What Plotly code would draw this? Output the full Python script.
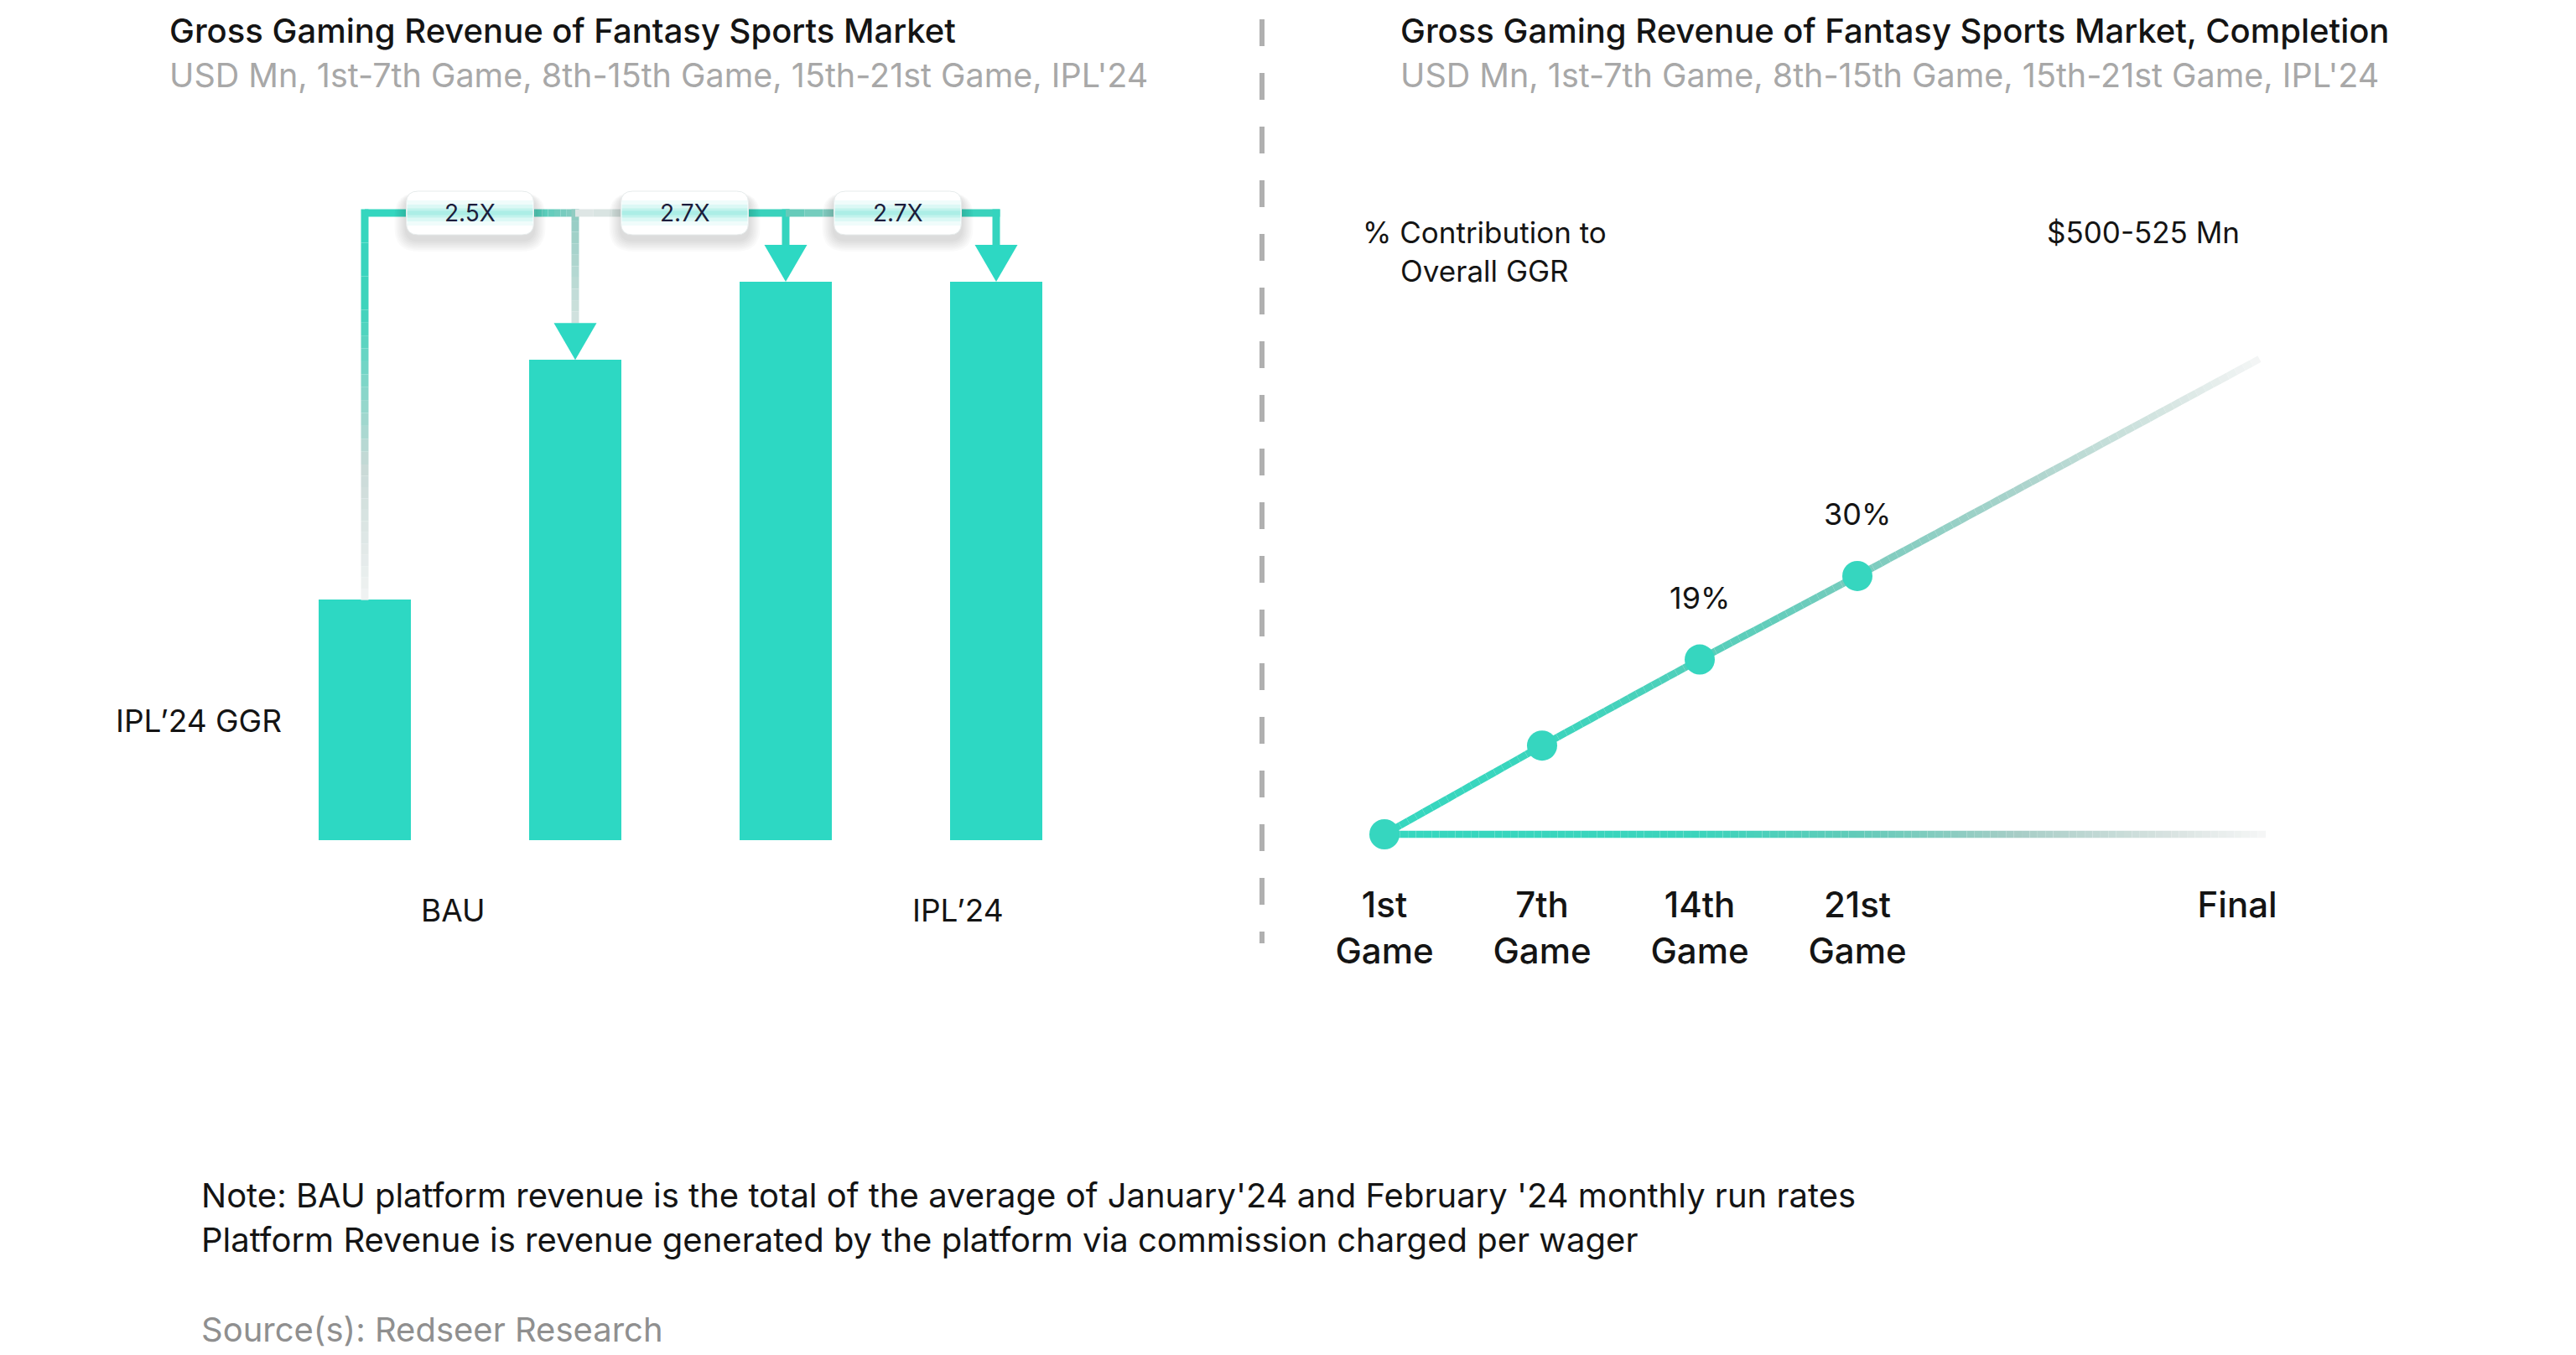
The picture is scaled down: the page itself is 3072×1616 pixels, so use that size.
import plotly.graph_objects as go

W, H = 3072, 1616

# ---------------- data ----------------
bar_names = ["BAU", "1st-7th Game", "8th-15th Game", "15th-21st Game"]
bar_values = [43, 86, 100, 100]            # relative GGR (as drawn)
growth_labels = ["2.5X", "2.7X", "2.7X"]
group_labels = ["BAU", "IPL’24"]
group_label_x = [0.42, 2.82]

game_ticks = ["1st<br>Game", "7th<br>Game", "14th<br>Game", "21st<br>Game", "Final"]
game_tick_x = [0, 1, 2, 3, 5.41]
game_x = [0, 1, 2, 3]
contribution = [0, 10.3, 20.3, 30]         # cumulative contribution (as drawn)
contribution_labels = ["", "", "19%", "30%"]
projection_x = 5.55
projection_y = 55.2
baseline_end_x = 5.59

# ---------------- style / geometry ----------------
FONT = "Inter, Open Sans, sans-serif"
TEAL = "#2dd8c3"
DARK = "#141414"

# left panel mapping (pixels)
L_X0, L_UX = 435, 251.0        # x=0 pixel, px per unit
L_BASE, L_UY = 1002, 6.66      # y=0 pixel, px per unit
L_XR = [-1, 4]
L_YR = [0, 130]
BOX_DX_PX = [0, 5, 8]          # small horizontal nudge of the multiplier boxes
# right panel mapping
R_X0, R_UX = 1651, 188.0
R_BASE, R_UY = 995, 10.27
R_XR = [-1, 6.5]
R_YR = [-5.5, 70]

def dom_x(x0px, ux, rng):
    return [(x0px + rng[0] * ux) / W, (x0px + rng[1] * ux) / W]

def dom_y(basepx, uy, rng):
    return [1 - (basepx - rng[0] * uy) / H, 1 - (basepx - rng[1] * uy) / H]

def hex2rgb(h):
    h = h.lstrip("#")
    return tuple(int(h[i:i + 2], 16) for i in (0, 2, 4))

def mix(c0, c1, t):
    a, b = hex2rgb(c0), hex2rgb(c1)
    return "rgb(%d,%d,%d)" % tuple(round(a[i] + (b[i] - a[i]) * t) for i in range(3))

fig = go.Figure()

def add_grad_seg(p0, p1, c0, c1, n, width, xa="x", ya="y"):
    for k in range(n):
        t0, t1 = k / n, (k + 1) / n
        xs = [p0[0] + (p1[0] - p0[0]) * t0, p0[0] + (p1[0] - p0[0]) * t1]
        ys = [p0[1] + (p1[1] - p0[1]) * t0, p0[1] + (p1[1] - p0[1]) * t1]
        fig.add_trace(go.Scatter(x=xs, y=ys, mode="lines", xaxis=xa, yaxis=ya,
                                 line=dict(color=mix(c0, c1, (t0 + t1) / 2), width=width),
                                 hoverinfo="skip", showlegend=False))

# ---------------- left panel: bars ----------------
bar_x = list(range(len(bar_values)))
BAR_W = 110 / L_UX
fig.add_trace(go.Bar(x=bar_x, y=bar_values, width=BAR_W, marker=dict(color=TEAL, line=dict(width=0)),
                     hovertext=bar_names, hoverinfo="text", xaxis="x", yaxis="y", showlegend=False))

LEVEL = (L_BASE - 254) / L_UY        # connector level
AH = 44 / L_UY                        # arrow height
AW = 51 / L_UX                        # arrow width
LW = 9                                # line width px
HWY = (LW / 2) / L_UY
BOX_W = 152 / L_UX
BOX_H = 52 / L_UY
box_cx = [i + 0.5 + BOX_DX_PX[i] / L_UX for i in range(len(growth_labels))]

# connectors
v0, v1, v2, v3 = bar_values
span = LEVEL - v0
add_grad_seg((0, v0), (0, v0 + span * 0.35), "#f1f3f3", "#c8d9d6", 12, LW)
add_grad_seg((0, v0 + span * 0.35), (0, v0 + span * 0.75), "#c8d9d6", "#3fd3bc", 12, LW)
add_grad_seg((0, v0 + span * 0.75), (0, LEVEL + HWY), "#3fd3bc", "#34d6bf", 3, LW)
add_grad_seg((0, LEVEL), (box_cx[0], LEVEL), "#34d6bf", "#34d6bf", 1, LW)
add_grad_seg((box_cx[0] + BOX_W / 2 - 0.02, LEVEL), (1 + (LW / 2) / L_UX, LEVEL), "#45cfba", "#8fcbc1", 8, LW)
add_grad_seg((1, LEVEL + HWY), (1, v1 + AH), "#8fcbc1", "#d3e2df", 10, LW)

add_grad_seg((1, LEVEL), (box_cx[1], LEVEL), "#e1e7e6", "#c2dad6", 6, LW)
add_grad_seg((box_cx[1] + BOX_W / 2 - 0.02, LEVEL), (2 + (LW / 2) / L_UX, LEVEL), "#3cd2bb", "#38d3bc", 1, LW)
add_grad_seg((2, LEVEL + HWY), (2, v2 + AH), "#38d3bc", "#30d6c0", 1, LW)

add_grad_seg((2, LEVEL), (box_cx[2], LEVEL), "#5ecab8", "#b9d6d2", 6, LW)
add_grad_seg((box_cx[2] + BOX_W / 2 - 0.02, LEVEL), (3 + (LW / 2) / L_UX, LEVEL), "#3cd2bb", "#38d3bc", 1, LW)
add_grad_seg((3, LEVEL + HWY), (3, v3 + AH), "#38d3bc", "#30d6c0", 1, LW)

# arrow heads
for i in range(1, len(bar_values)):
    v = bar_values[i]
    fig.add_trace(go.Scatter(x=[i - AW / 2, i + AW / 2, i, i - AW / 2], y=[v + AH, v + AH, v, v + AH],
                             mode="lines", fill="toself", fillcolor=TEAL, line=dict(width=0, color=TEAL),
                             xaxis="x", yaxis="y", hoverinfo="skip", showlegend=False))

def rrect(x0, y0, x1, y1, rx, ry):
    return (f"M {x0 + rx},{y0} L {x1 - rx},{y0} Q {x1},{y0} {x1},{y0 + ry} L {x1},{y1 - ry} "
            f"Q {x1},{y1} {x1 - rx},{y1} L {x0 + rx},{y1} Q {x0},{y1} {x0},{y1 - ry} "
            f"L {x0},{y0 + ry} Q {x0},{y0} {x0 + rx},{y0} Z")

shapes = []
annotations = []
ux, uy = 1 / L_UX, 1 / L_UY
for i, lab in enumerate(growth_labels):
    cx = box_cx[i]
    x0, x1 = cx - BOX_W / 2, cx + BOX_W / 2
    y0, y1 = LEVEL - BOX_H / 2, LEVEL + BOX_H / 2
    # shadow
    for k in range(1, 8):
        e = k * 2.0
        shapes.append(dict(type="path", xref="x", yref="y",
                           path=rrect(x0 - e * ux, y0 - (e + 6) * uy, x1 + e * ux, y1 - (6 - e * 0.3) * uy,
                                      (14 + e) * ux, (14 + e) * uy),
                           fillcolor="rgba(0,0,0,0.02)", line=dict(width=0)))
    shapes.append(dict(type="path", xref="x", yref="y", path=rrect(x0, y0, x1, y1, 14 * ux, 14 * uy),
                       fillcolor="white", line=dict(width=1, color="rgba(230,235,235,1)")))
    # teal glow through the middle
    for hpx, a in [(30, 0.07), (20, 0.10), (11, 0.15), (5, 0.15)]:
        shapes.append(dict(type="rect", xref="x", yref="y", x0=x0 + 1 * ux, x1=x1 - 1 * ux,
                           y0=LEVEL - hpx / 2 * uy, y1=LEVEL + hpx / 2 * uy,
                           fillcolor=f"rgba(45,216,195,{a})", line=dict(width=0)))
    annotations.append(dict(x=cx, y=LEVEL, xref="x", yref="y", text=lab, showarrow=False,
                            xanchor="center", yanchor="middle",
                            font=dict(family=FONT, size=28, color="#1b1d3c")))

# left labels
for lab, gx in zip(group_labels, group_label_x):
    annotations.append(dict(x=gx, y=1 - 1085 / H, xref="x", yref="paper", text=lab, showarrow=False,
                            xanchor="center", yanchor="middle", font=dict(family=FONT, size=37, color=DARK)))
annotations.append(dict(x=338 / W, y=1 - 859 / H, xref="paper", yref="paper", text="IPL’24 GGR",
                        showarrow=False, xanchor="right", yanchor="middle",
                        font=dict(family=FONT, size=37, color=DARK)))

# ---------------- right panel: line ----------------
def color_at(x, stops):
    for (xa, ca), (xb, cb) in zip(stops[:-1], stops[1:]):
        if x <= xb:
            return mix(ca, cb, (x - xa) / (xb - xa) if xb > xa else 0)
    return mix(stops[-1][1], stops[-1][1], 0)

trend_stops = [(0, "#36d7bf"), (1, "#3ad5bd"), (2, "#52cfba"), (3, "#78cbbd"),
               (4, "#a9d3cb"), (5, "#d8e6e3"), (projection_x, "#f4f6f6")]
base_stops = [(0, "#36d7bf"), (2, "#3cd4bc"), (3, "#62cbb9"), (4, "#a6cdc6"),
              (5, "#d9e3e1"), (baseline_end_x, "#f6f7f7")]

tx = game_x + [projection_x]
ty = contribution + [projection_y]
STEP = 0.05
for (xa_, ya_), (xb_, yb_) in zip(zip(tx[:-1], ty[:-1]), zip(tx[1:], ty[1:])):
    n = max(1, round((xb_ - xa_) / STEP))
    for k in range(n):
        t0, t1 = k / n, (k + 1) / n
        xs = [xa_ + (xb_ - xa_) * t0, xa_ + (xb_ - xa_) * t1]
        ys = [ya_ + (yb_ - ya_) * t0, ya_ + (yb_ - ya_) * t1]
        fig.add_trace(go.Scatter(x=xs, y=ys, mode="lines", xaxis="x2", yaxis="y2",
                                 line=dict(color=color_at((xs[0] + xs[1]) / 2, trend_stops), width=8.5),
                                 hoverinfo="skip", showlegend=False))

n = round((baseline_end_x - game_x[0]) / STEP)
for k in range(n):
    xs = [game_x[0] + baseline_end_x * k / n, game_x[0] + baseline_end_x * (k + 1) / n]
    fig.add_trace(go.Scatter(x=xs, y=[contribution[0], contribution[0]], mode="lines", xaxis="x2", yaxis="y2",
                             line=dict(color=color_at((xs[0] + xs[1]) / 2, base_stops), width=8.5),
                             hoverinfo="skip", showlegend=False))

fig.add_trace(go.Scatter(x=game_x, y=contribution, mode="markers", xaxis="x2", yaxis="y2",
                         marker=dict(size=36, color="#36d6bf", line=dict(width=0)),
                         hoverinfo="skip", showlegend=False))

for gx, cy, lab in zip(game_x, contribution, contribution_labels):
    if lab:
        annotations.append(dict(x=gx, y=cy, xref="x2", yref="y2", text=lab, showarrow=False,
                                xanchor="center", yanchor="middle",
                                yshift=74, font=dict(family=FONT, size=36, color=DARK)))

annotations.append(dict(x=1770 / W, y=1 - 300 / H, xref="paper", yref="paper",
                        text="% Contribution to<br>Overall GGR", showarrow=False, align="center",
                        xanchor="center", yanchor="middle",
                        font=dict(family=FONT, size=35, color=DARK)))
annotations.append(dict(x=2556 / W, y=1 - 277 / H, xref="paper", yref="paper", text="$500-525 Mn",
                        showarrow=False, xanchor="center", yanchor="middle",
                        font=dict(family=FONT, size=35, color=DARK)))

# ---------------- titles & notes ----------------
for x0px, title in [(200, "Gross Gaming Revenue of Fantasy Sports Market"),
                    (1668, "Gross Gaming Revenue of Fantasy Sports Market, Completion")]:
    annotations.append(dict(x=x0px / W, y=1 - 37 / H, xref="paper", yref="paper", text=title,
                            showarrow=False, xanchor="left", yanchor="middle",
                            font=dict(family=FONT, size=40, color=DARK, weight=500)))
    annotations.append(dict(x=x0px / W, y=1 - 90 / H, xref="paper", yref="paper",
                            text="USD Mn, 1st-7th Game, 8th-15th Game, 15th-21st Game, IPL'24",
                            showarrow=False, xanchor="left", yanchor="middle",
                            font=dict(family=FONT, size=39.5, color="#a8a8a8")))

annotations.append(dict(x=238 / W, y=1 - 1425 / H, xref="paper", yref="paper", showarrow=False,
                        xanchor="left", yanchor="middle",
                        text="Note: BAU platform revenue is the total of the average of January'24 and February '24 monthly run rates",
                        font=dict(family=FONT, size=40, color=DARK)))
annotations.append(dict(x=238 / W, y=1 - 1478 / H, xref="paper", yref="paper", showarrow=False,
                        xanchor="left", yanchor="middle",
                        text="Platform Revenue is revenue generated by the platform via commission charged per wager",
                        font=dict(family=FONT, size=40, color=DARK)))
annotations.append(dict(x=238 / W, y=1 - 1585 / H, xref="paper", yref="paper", showarrow=False,
                        xanchor="left", yanchor="middle", text="Source(s): Redseer Research",
                        font=dict(family=FONT, size=40, color="#8f8f8f")))

# dashed divider
shapes.append(dict(type="line", xref="paper", yref="paper", x0=1505 / W, x1=1505 / W,
                   y0=1 - 23 / H, y1=1 - 1125 / H, line=dict(color="#b0b0b0", width=6, dash="32px,32px")))

fig.update_layout(
    width=W, height=H, autosize=False,
    margin=dict(l=0, r=0, t=0, b=0),
    paper_bgcolor="white", plot_bgcolor="white",
    showlegend=False, bargap=0,
    font=dict(family=FONT, color=DARK),
    shapes=shapes, annotations=annotations,
    xaxis=dict(domain=dom_x(L_X0, L_UX, L_XR), range=L_XR, visible=False, anchor="y"),
    yaxis=dict(domain=dom_y(L_BASE, L_UY, L_YR), range=L_YR, visible=False, anchor="x"),
    xaxis2=dict(domain=dom_x(R_X0, R_UX, R_XR), range=R_XR, anchor="y2", showgrid=False, zeroline=False,
                showline=False, ticks="", tickmode="array", tickvals=game_tick_x, ticktext=game_ticks,
                tickfont=dict(family=FONT, size=42, color=DARK, weight=500), ticklabelstandoff=0),
    yaxis2=dict(domain=dom_y(R_BASE, R_UY, R_YR), range=R_YR, anchor="x2", visible=False),
)

fig.write_html("out.html", config={"displayModeBar": False},
               post_script="document.body.style.margin='0';")
